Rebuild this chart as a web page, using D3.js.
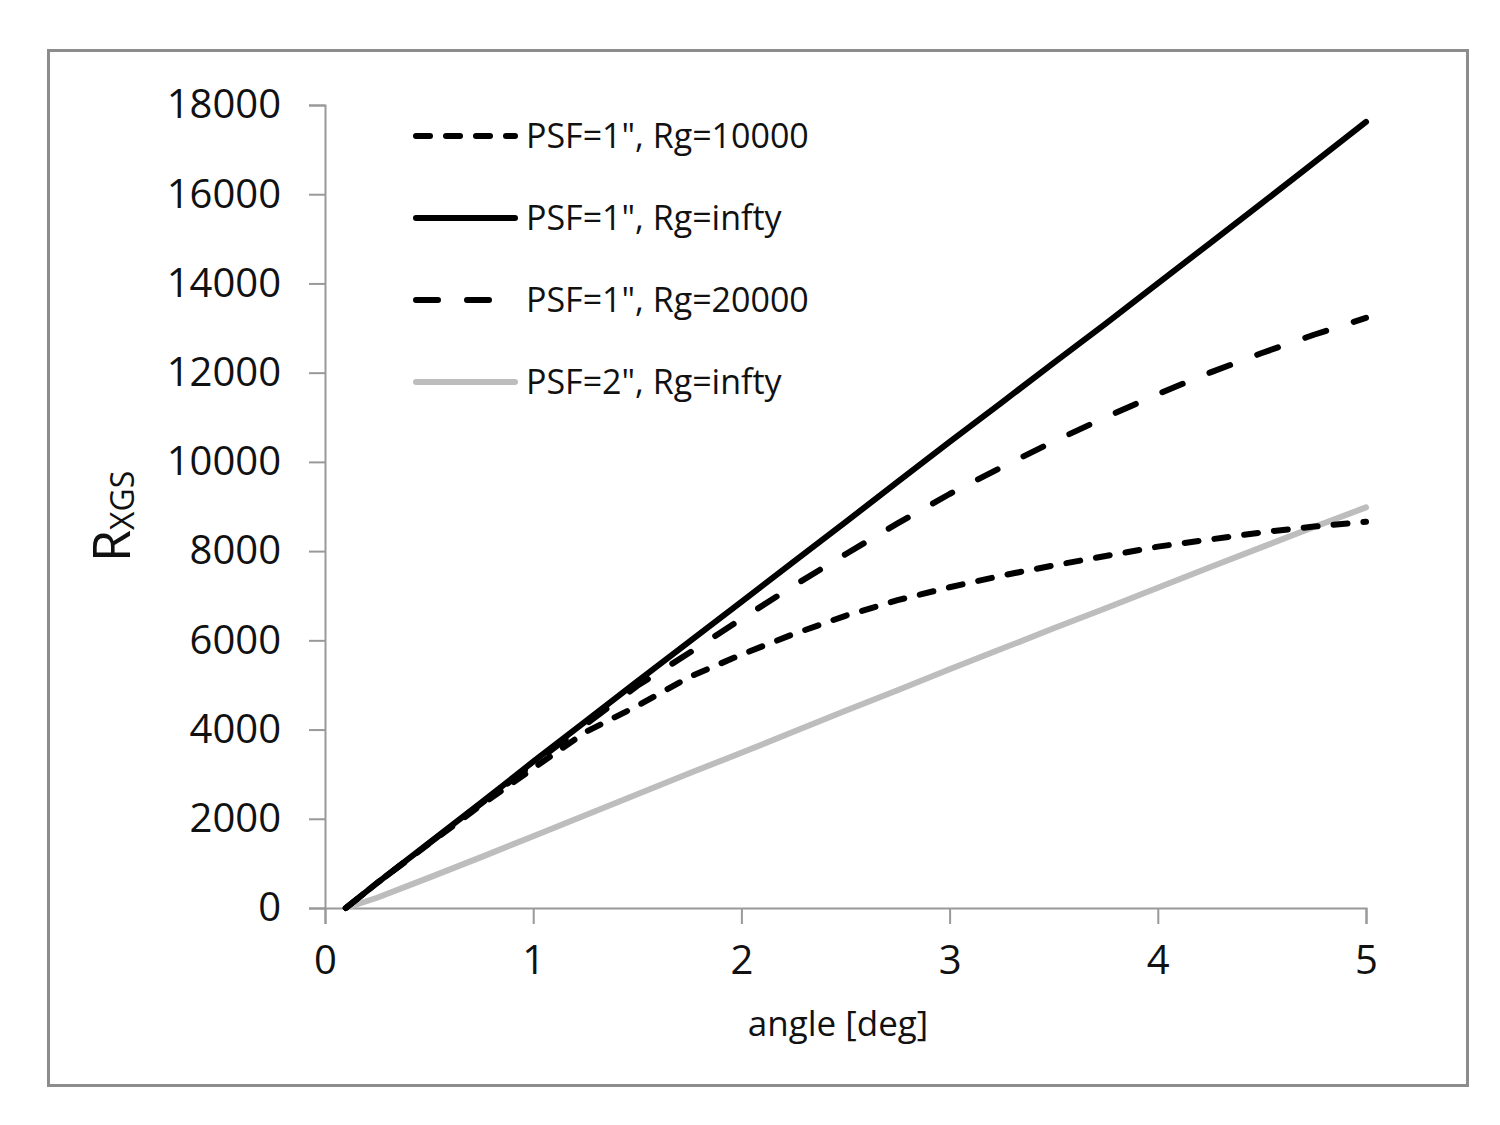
<!DOCTYPE html>
<html>
<head>
<meta charset="utf-8">
<script src="https://cdn.jsdelivr.net/npm/d3@7"></script>
<style>
  html, body { margin: 0; padding: 0; background: #fff; }
  svg { display: block; }
  text { font-family: "Open Sans", "Noto Sans", sans-serif; fill: #111; }
</style>
</head>
<body>
<script>
// ---- data ----
const angles = [0.1, 0.25, 0.5, 0.75, 1, 1.25, 1.5, 1.75, 2, 2.25, 2.5, 2.75, 3, 3.25, 3.5, 3.75, 4, 4.25, 4.5, 4.75, 5];
const psf1Rg10000 = [0, 560, 1440, 2310, 3130, 3940, 4530, 5180, 5680, 6140, 6550, 6900, 7190, 7450, 7680, 7890, 8100, 8260, 8420, 8550, 8660];
const psf1RgInf   = [0, 560, 1460, 2360, 3280, 4180, 5080, 5970, 6860, 7760, 8650, 9550, 10450, 11330, 12220, 13100, 14000, 14900, 15800, 16710, 17620];
const psf1Rg20000 = [0, 560, 1450, 2340, 3230, 4110, 4980, 5720, 6480, 7220, 7930, 8620, 9280, 9880, 10460, 11000, 11520, 12000, 12440, 12850, 13230];
const psf2RgInf   = [0, 230, 680, 1140, 1610, 2080, 2550, 3020, 3480, 3950, 4420, 4880, 5350, 5810, 6270, 6720, 7180, 7640, 8090, 8540, 8980];
const seriesNames = ['PSF=1", Rg=10000', 'PSF=1", Rg=infty', 'PSF=1", Rg=20000', 'PSF=2", Rg=infty'];
const xTicks = [0, 1, 2, 3, 4, 5];
const yTicks = [0, 2000, 4000, 6000, 8000, 10000, 12000, 14000, 16000, 18000];

const series = [
  { name: seriesNames[0], values: psf1Rg10000, color: "#000", dash: "14,16", width: 6 },
  { name: seriesNames[1], values: psf1RgInf,   color: "#000", dash: null,    width: 6 },
  { name: seriesNames[2], values: psf1Rg20000, color: "#000", dash: "22,29", width: 6 },
  { name: seriesNames[3], values: psf2RgInf,   color: "#bdbdbd", dash: null, width: 6 }
];

const W = 1500, H = 1125;
const svg = d3.select("body").append("svg").attr("width", W).attr("height", H);

// outer frame
svg.append("rect").attr("x", 48.5).attr("y", 50.5).attr("width", 1419).attr("height", 1035)
  .attr("fill", "#fff").attr("stroke", "#8c8c8c").attr("stroke-width", 3);

const x = d3.scaleLinear().domain([0, 5]).range([325, 1366]);
const y = d3.scaleLinear().domain([0, 18000]).range([908, 105]);
const axisColor = "#999";

// y axis
const yAxis = svg.append("g").attr("transform", "translate(325,0)")
  .call(d3.axisLeft(y).tickValues(yTicks).tickSize(16).tickPadding(28).tickFormat(d3.format("d")));
yAxis.select(".domain").attr("stroke", axisColor).attr("stroke-width", 2);
yAxis.selectAll(".tick line").attr("stroke", axisColor).attr("stroke-width", 2);
yAxis.selectAll(".tick text").attr("font-size", 40).attr("fill", "#111")
  .attr("font-family", '"Open Sans", sans-serif');

// x axis
const xAxis = svg.append("g").attr("transform", "translate(0,908)")
  .call(d3.axisBottom(x).tickValues(xTicks).tickSize(16).tickPadding(22).tickFormat(d3.format("d")));
xAxis.select(".domain").attr("stroke", axisColor).attr("stroke-width", 2);
xAxis.selectAll(".tick line").attr("stroke", axisColor).attr("stroke-width", 2);
xAxis.selectAll(".tick text").attr("font-size", 40).attr("fill", "#111")
  .attr("font-family", '"Open Sans", sans-serif');

// axis titles
svg.append("text").attr("x", 838).attr("y", 1036).attr("text-anchor", "middle")
  .attr("font-size", 35).text("angle [deg]");

const yt = svg.append("text").attr("transform", "translate(130,562) rotate(-90)")
  .attr("text-anchor", "start");
yt.append("tspan").attr("font-size", 52).text("R");
yt.append("tspan").attr("font-size", 32).attr("dy", 4).text("XGS");

// lines
const line = d3.line().x((d, i) => x(angles[i])).y(d => y(d));
const lineOrder = [3, 2, 0, 1];
lineOrder.forEach(k => {
  const s = series[k];
  svg.append("path").datum(s.values)
    .attr("d", line)
    .attr("fill", "none")
    .attr("stroke", s.color)
    .attr("stroke-width", s.width)
    .attr("stroke-linecap", "round")
    .attr("stroke-linejoin", "round")
    .attr("stroke-dasharray", s.dash);
});

// legend
const legY = [136, 218, 300, 382];
series.forEach((s, i) => {
  const g = svg.append("g");
  g.append("line").attr("x1", 416).attr("x2", 515).attr("y1", legY[i]).attr("y2", legY[i])
    .attr("stroke", s.color).attr("stroke-width", s.width)
    .attr("stroke-linecap", "round")
    .attr("stroke-dasharray", s.dash);
  g.append("text").attr("x", 526).attr("y", legY[i] + 12).attr("font-size", 34)
    .text(s.name);
});
</script>
</body>
</html>
